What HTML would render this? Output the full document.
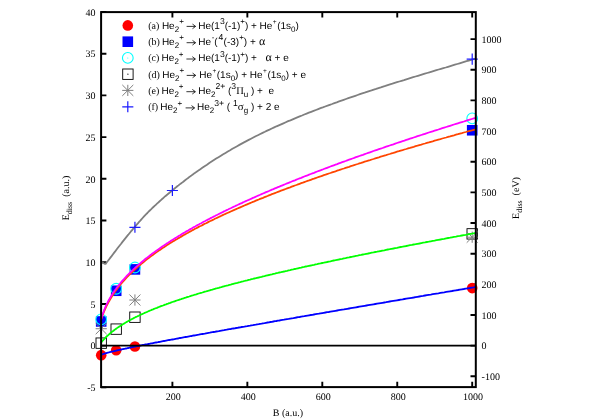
<!DOCTYPE html><html><head><meta charset="utf-8"><style>html,body{margin:0;padding:0;background:#fff;overflow:hidden}</style></head><body><svg width="598" height="419" viewBox="0 0 598 419" style="display:block;text-rendering:geometricPrecision;will-change:transform">
<rect width="598" height="419" fill="#fff"/>
<path d="M101.1,387.36h5.3 M101.1,345.65h5.3 M101.1,303.94h5.3 M101.1,262.23h5.3 M101.1,220.52h5.3 M101.1,178.81h5.3 M101.1,137.10h5.3 M101.1,95.39h5.3 M101.1,53.68h5.3 M101.1,11.97h5.3 M172.40,387.1v-5.3M172.40,12.1v5.3 M247.35,387.1v-5.3M247.35,12.1v5.3 M322.30,387.1v-5.3M322.30,12.1v5.3 M397.25,387.1v-5.3M397.25,12.1v5.3 M472.20,387.1v-5.3M472.20,12.1v5.3 M475.8,376.31h-5.3 M475.8,345.65h-5.3 M475.8,314.99h-5.3 M475.8,284.34h-5.3 M475.8,253.68h-5.3 M475.8,223.02h-5.3 M475.8,192.37h-5.3 M475.8,161.71h-5.3 M475.8,131.06h-5.3 M475.8,100.40h-5.3 M475.8,69.74h-5.3 M475.8,39.09h-5.3" stroke="#000" stroke-width="1.9" fill="none"/>
<circle cx="101.20" cy="355.16" r="5.3" fill="#ff0000"/>
<circle cx="116.19" cy="350.32" r="5.3" fill="#ff0000"/>
<circle cx="134.93" cy="346.57" r="5.3" fill="#ff0000"/>
<circle cx="472.20" cy="288.09" r="5.3" fill="#ff0000"/>
<rect x="95.90" y="316.16" width="10.6" height="10.6" fill="#0000ff"/>
<rect x="110.89" y="285.46" width="10.6" height="10.6" fill="#0000ff"/>
<rect x="129.62" y="264.10" width="10.6" height="10.6" fill="#0000ff"/>
<rect x="466.90" y="124.96" width="10.6" height="10.6" fill="#0000ff"/>
<circle cx="101.20" cy="319.37" r="5.35" fill="none" stroke="#00ffff" stroke-width="1.1"/>
<circle cx="116.19" cy="288.76" r="5.35" fill="none" stroke="#00ffff" stroke-width="1.1"/>
<circle cx="134.93" cy="267.49" r="5.35" fill="none" stroke="#00ffff" stroke-width="1.1"/>
<circle cx="472.20" cy="118.41" r="5.35" fill="none" stroke="#00ffff" stroke-width="1.1"/>
<rect x="96.00" y="337.95" width="10.4" height="10.4" fill="none" stroke="#000" stroke-width="0.9"/>
<rect x="110.99" y="323.93" width="10.4" height="10.4" fill="none" stroke="#000" stroke-width="0.9"/>
<rect x="129.73" y="312.00" width="10.4" height="10.4" fill="none" stroke="#000" stroke-width="0.9"/>
<rect x="467.00" y="228.67" width="10.4" height="10.4" fill="none" stroke="#000" stroke-width="0.9"/>
<path d="M95.60,328.72H106.80M101.20,323.12V334.32M95.71,323.23L106.69,334.20M95.71,334.20L106.69,323.23" stroke="#7f7f7f" stroke-width="1.0" fill="none"/>
<path d="M129.33,300.02H140.53M134.93,294.42V305.62M129.44,294.53L140.41,305.51M129.44,305.51L140.41,294.53" stroke="#7f7f7f" stroke-width="1.0" fill="none"/>
<path d="M466.60,237.20H477.80M472.20,231.60V242.80M466.71,231.72L477.69,242.69M466.71,242.69L477.69,231.72" stroke="#7f7f7f" stroke-width="1.0" fill="none"/>
<path d="M101.1,354.7 L101.1,354.7 L101.2,354.7 L101.3,354.6 L101.5,354.6 L101.6,354.5 L101.8,354.5 L102.0,354.4 L102.2,354.3 L102.5,354.3 L102.7,354.2 L103.0,354.1 L103.3,354.0 L103.6,353.9 L103.9,353.8 L104.2,353.7 L104.6,353.6 L104.9,353.5 L105.3,353.4 L105.7,353.3 L106.0,353.2 L106.4,353.1 L106.9,352.9 L107.3,352.8 L107.7,352.7 L108.2,352.6 L108.6,352.5 L109.1,352.3 L109.6,352.2 L110.1,352.1 L110.6,352.0 L111.1,351.8 L111.6,351.7 L112.1,351.6 L112.7,351.5 L113.2,351.3 L113.8,351.2 L114.3,351.1 L114.9,350.9 L115.5,350.8 L116.1,350.6 L116.7,350.5 L117.3,350.4 L117.9,350.2 L118.6,350.1 L119.2,349.9 L119.9,349.8 L120.5,349.6 L121.2,349.5 L121.8,349.4 L122.5,349.2 L123.2,349.1 L123.9,348.9 L124.6,348.8 L125.3,348.6 L126.1,348.5 L126.8,348.3 L127.5,348.1 L128.3,348.0 L129.0,347.8 L129.8,347.7 L130.6,347.5 L131.3,347.4 L132.1,347.2 L132.9,347.0 L133.7,346.9 L134.5,346.7 L135.3,346.5 L136.1,346.4 L137.0,346.2 L137.8,346.0 L138.7,345.9 L139.5,345.7 L140.4,345.5 L141.2,345.4 L142.1,345.2 L143.0,345.0 L143.9,344.9 L144.7,344.7 L145.6,344.5 L146.6,344.3 L147.5,344.2 L148.4,344.0 L149.3,343.8 L150.2,343.6 L151.2,343.4 L152.1,343.3 L153.1,343.1 L154.0,342.9 L155.0,342.7 L156.0,342.5 L157.0,342.3 L157.9,342.2 L158.9,342.0 L159.9,341.8 L160.9,341.6 L161.9,341.4 L163.0,341.2 L164.0,341.0 L165.0,340.8 L166.1,340.6 L167.1,340.4 L168.1,340.2 L169.2,340.0 L170.3,339.9 L171.3,339.7 L172.4,339.5 L173.5,339.3 L174.6,339.1 L175.7,338.9 L176.8,338.7 L177.9,338.5 L179.0,338.2 L180.1,338.0 L181.2,337.8 L182.3,337.6 L183.5,337.4 L184.6,337.2 L185.7,337.0 L186.9,336.8 L188.1,336.6 L189.2,336.4 L190.4,336.2 L191.6,336.0 L192.7,335.7 L193.9,335.5 L195.1,335.3 L196.3,335.1 L197.5,334.9 L198.7,334.7 L199.9,334.4 L201.2,334.2 L202.4,334.0 L203.6,333.8 L204.8,333.6 L206.1,333.3 L207.3,333.1 L208.6,332.9 L209.8,332.7 L211.1,332.4 L212.4,332.2 L213.7,332.0 L214.9,331.8 L216.2,331.5 L217.5,331.3 L218.8,331.1 L220.1,330.8 L221.4,330.6 L222.7,330.4 L224.0,330.2 L225.4,329.9 L226.7,329.7 L228.0,329.4 L229.4,329.2 L230.7,329.0 L232.1,328.7 L233.4,328.5 L234.8,328.3 L236.1,328.0 L237.5,327.8 L238.9,327.5 L240.3,327.3 L241.7,327.0 L243.0,326.8 L244.4,326.6 L245.8,326.3 L247.2,326.1 L248.7,325.8 L250.1,325.6 L251.5,325.3 L252.9,325.1 L254.4,324.8 L255.8,324.6 L257.2,324.3 L258.7,324.1 L260.1,323.8 L261.6,323.6 L263.0,323.3 L264.5,323.1 L266.0,322.8 L267.5,322.5 L268.9,322.3 L270.4,322.0 L271.9,321.8 L273.4,321.5 L274.9,321.2 L276.4,321.0 L277.9,320.7 L279.4,320.5 L281.0,320.2 L282.5,319.9 L284.0,319.7 L285.6,319.4 L287.1,319.1 L288.6,318.9 L290.2,318.6 L291.7,318.3 L293.3,318.1 L294.9,317.8 L296.4,317.5 L298.0,317.2 L299.6,317.0 L301.2,316.7 L302.8,316.4 L304.3,316.2 L305.9,315.9 L307.5,315.6 L309.1,315.3 L310.8,315.0 L312.4,314.8 L314.0,314.5 L315.6,314.2 L317.2,313.9 L318.9,313.7 L320.5,313.4 L322.2,313.1 L323.8,312.8 L325.5,312.5 L327.1,312.2 L328.8,312.0 L330.4,311.7 L332.1,311.4 L333.8,311.1 L335.5,310.8 L337.2,310.5 L338.8,310.2 L340.5,309.9 L342.2,309.6 L343.9,309.4 L345.6,309.1 L347.3,308.8 L349.1,308.5 L350.8,308.2 L352.5,307.9 L354.2,307.6 L356.0,307.3 L357.7,307.0 L359.4,306.7 L361.2,306.4 L362.9,306.1 L364.7,305.8 L366.5,305.5 L368.2,305.2 L370.0,304.9 L371.8,304.6 L373.5,304.3 L375.3,304.0 L377.1,303.7 L378.9,303.4 L380.7,303.1 L382.5,302.8 L384.3,302.5 L386.1,302.2 L387.9,301.8 L389.7,301.5 L391.6,301.2 L393.4,300.9 L395.2,300.6 L397.0,300.3 L398.9,300.0 L400.7,299.7 L402.6,299.4 L404.4,299.0 L406.3,298.7 L408.1,298.4 L410.0,298.1 L411.9,297.8 L413.7,297.5 L415.6,297.1 L417.5,296.8 L419.4,296.5 L421.3,296.2 L423.1,295.9 L425.0,295.5 L426.9,295.2 L428.8,294.9 L430.8,294.6 L432.7,294.2 L434.6,293.9 L436.5,293.6 L438.4,293.3 L440.4,292.9 L442.3,292.6 L444.2,292.3 L446.2,291.9 L448.1,291.6 L450.1,291.3 L452.0,291.0 L454.0,290.6 L456.0,290.3 L457.9,290.0 L459.9,289.6 L461.9,289.3 L463.8,289.0 L465.8,288.6 L467.8,288.3 L469.8,288.0 L471.8,287.6 L473.8,287.3 L475.8,286.9" fill="none" stroke="#0000ff" stroke-width="1.8"/>
<path d="M101.1,342.6 L101.1,342.5 L101.2,342.4 L101.3,342.3 L101.5,342.1 L101.6,341.9 L101.8,341.7 L102.0,341.5 L102.2,341.2 L102.5,340.9 L102.7,340.6 L103.0,340.3 L103.3,340.0 L103.6,339.7 L103.9,339.3 L104.2,339.0 L104.6,338.6 L104.9,338.3 L105.3,337.9 L105.7,337.5 L106.0,337.1 L106.4,336.7 L106.9,336.3 L107.3,335.9 L107.7,335.5 L108.2,335.1 L108.6,334.7 L109.1,334.3 L109.6,333.9 L110.1,333.4 L110.6,333.0 L111.1,332.6 L111.6,332.2 L112.1,331.7 L112.7,331.3 L113.2,330.9 L113.8,330.5 L114.3,330.0 L114.9,329.6 L115.5,329.2 L116.1,328.7 L116.7,328.3 L117.3,327.9 L117.9,327.4 L118.6,327.0 L119.2,326.6 L119.9,326.2 L120.5,325.7 L121.2,325.3 L121.8,324.9 L122.5,324.4 L123.2,324.0 L123.9,323.6 L124.6,323.2 L125.3,322.7 L126.1,322.3 L126.8,321.9 L127.5,321.5 L128.3,321.1 L129.0,320.6 L129.8,320.2 L130.6,319.8 L131.3,319.4 L132.1,319.0 L132.9,318.6 L133.7,318.1 L134.5,317.7 L135.3,317.3 L136.1,316.9 L137.0,316.5 L137.8,316.1 L138.7,315.7 L139.5,315.3 L140.4,314.9 L141.2,314.5 L142.1,314.1 L143.0,313.7 L143.9,313.3 L144.7,312.9 L145.6,312.5 L146.6,312.1 L147.5,311.7 L148.4,311.3 L149.3,310.9 L150.2,310.5 L151.2,310.1 L152.1,309.7 L153.1,309.3 L154.0,308.9 L155.0,308.5 L156.0,308.2 L157.0,307.8 L157.9,307.4 L158.9,307.0 L159.9,306.6 L160.9,306.2 L161.9,305.8 L163.0,305.5 L164.0,305.1 L165.0,304.7 L166.1,304.3 L167.1,303.9 L168.1,303.6 L169.2,303.2 L170.3,302.8 L171.3,302.4 L172.4,302.0 L173.5,301.7 L174.6,301.3 L175.7,300.9 L176.8,300.5 L177.9,300.2 L179.0,299.8 L180.1,299.4 L181.2,299.1 L182.3,298.7 L183.5,298.3 L184.6,297.9 L185.7,297.6 L186.9,297.2 L188.1,296.8 L189.2,296.5 L190.4,296.1 L191.6,295.7 L192.7,295.4 L193.9,295.0 L195.1,294.6 L196.3,294.3 L197.5,293.9 L198.7,293.5 L199.9,293.2 L201.2,292.8 L202.4,292.5 L203.6,292.1 L204.8,291.7 L206.1,291.4 L207.3,291.0 L208.6,290.7 L209.8,290.3 L211.1,289.9 L212.4,289.6 L213.7,289.2 L214.9,288.8 L216.2,288.5 L217.5,288.1 L218.8,287.8 L220.1,287.4 L221.4,287.1 L222.7,286.7 L224.0,286.3 L225.4,286.0 L226.7,285.6 L228.0,285.3 L229.4,284.9 L230.7,284.6 L232.1,284.2 L233.4,283.8 L234.8,283.5 L236.1,283.1 L237.5,282.8 L238.9,282.4 L240.3,282.1 L241.7,281.7 L243.0,281.4 L244.4,281.0 L245.8,280.6 L247.2,280.3 L248.7,279.9 L250.1,279.6 L251.5,279.2 L252.9,278.9 L254.4,278.5 L255.8,278.2 L257.2,277.8 L258.7,277.5 L260.1,277.1 L261.6,276.8 L263.0,276.4 L264.5,276.1 L266.0,275.7 L267.5,275.3 L268.9,275.0 L270.4,274.6 L271.9,274.3 L273.4,273.9 L274.9,273.6 L276.4,273.2 L277.9,272.9 L279.4,272.5 L281.0,272.2 L282.5,271.8 L284.0,271.5 L285.6,271.1 L287.1,270.8 L288.6,270.4 L290.2,270.1 L291.7,269.7 L293.3,269.4 L294.9,269.0 L296.4,268.7 L298.0,268.3 L299.6,267.9 L301.2,267.6 L302.8,267.2 L304.3,266.9 L305.9,266.5 L307.5,266.2 L309.1,265.8 L310.8,265.5 L312.4,265.1 L314.0,264.8 L315.6,264.4 L317.2,264.1 L318.9,263.7 L320.5,263.4 L322.2,263.0 L323.8,262.7 L325.5,262.3 L327.1,262.0 L328.8,261.6 L330.4,261.3 L332.1,260.9 L333.8,260.5 L335.5,260.2 L337.2,259.8 L338.8,259.5 L340.5,259.1 L342.2,258.8 L343.9,258.4 L345.6,258.1 L347.3,257.7 L349.1,257.4 L350.8,257.0 L352.5,256.7 L354.2,256.3 L356.0,255.9 L357.7,255.6 L359.4,255.2 L361.2,254.9 L362.9,254.5 L364.7,254.2 L366.5,253.8 L368.2,253.5 L370.0,253.1 L371.8,252.7 L373.5,252.4 L375.3,252.0 L377.1,251.7 L378.9,251.3 L380.7,251.0 L382.5,250.6 L384.3,250.3 L386.1,249.9 L387.9,249.5 L389.7,249.2 L391.6,248.8 L393.4,248.5 L395.2,248.1 L397.0,247.8 L398.9,247.4 L400.7,247.0 L402.6,246.7 L404.4,246.3 L406.3,246.0 L408.1,245.6 L410.0,245.2 L411.9,244.9 L413.7,244.5 L415.6,244.2 L417.5,243.8 L419.4,243.5 L421.3,243.1 L423.1,242.7 L425.0,242.4 L426.9,242.0 L428.8,241.7 L430.8,241.3 L432.7,240.9 L434.6,240.6 L436.5,240.2 L438.4,239.8 L440.4,239.5 L442.3,239.1 L444.2,238.8 L446.2,238.4 L448.1,238.0 L450.1,237.7 L452.0,237.3 L454.0,236.9 L456.0,236.6 L457.9,236.2 L459.9,235.9 L461.9,235.5 L463.8,235.1 L465.8,234.8 L467.8,234.4 L469.8,234.0 L471.8,233.7 L473.8,233.3 L475.8,232.9" fill="none" stroke="#00ff00" stroke-width="1.8"/>
<path d="M101.1,319.8 L101.1,319.7 L101.2,319.4 L101.3,319.0 L101.5,318.6 L101.6,318.1 L101.8,317.6 L102.0,317.0 L102.2,316.3 L102.5,315.7 L102.7,315.0 L103.0,314.2 L103.3,313.5 L103.6,312.7 L103.9,312.0 L104.2,311.2 L104.6,310.4 L104.9,309.6 L105.3,308.7 L105.7,307.9 L106.0,307.1 L106.4,306.2 L106.9,305.4 L107.3,304.6 L107.7,303.7 L108.2,302.9 L108.6,302.0 L109.1,301.2 L109.6,300.3 L110.1,299.5 L110.6,298.6 L111.1,297.8 L111.6,296.9 L112.1,296.1 L112.7,295.2 L113.2,294.4 L113.8,293.6 L114.3,292.7 L114.9,291.9 L115.5,291.1 L116.1,290.2 L116.7,289.4 L117.3,288.6 L117.9,287.8 L118.6,287.0 L119.2,286.2 L119.9,285.3 L120.5,284.5 L121.2,283.7 L121.8,282.9 L122.5,282.1 L123.2,281.4 L123.9,280.6 L124.6,279.8 L125.3,279.0 L126.1,278.2 L126.8,277.4 L127.5,276.7 L128.3,275.9 L129.0,275.1 L129.8,274.4 L130.6,273.6 L131.3,272.8 L132.1,272.1 L132.9,271.3 L133.7,270.6 L134.5,269.8 L135.3,269.1 L136.1,268.3 L137.0,267.6 L137.8,266.9 L138.7,266.1 L139.5,265.4 L140.4,264.7 L141.2,263.9 L142.1,263.2 L143.0,262.5 L143.9,261.8 L144.7,261.1 L145.6,260.3 L146.6,259.6 L147.5,258.9 L148.4,258.2 L149.3,257.5 L150.2,256.8 L151.2,256.1 L152.1,255.4 L153.1,254.7 L154.0,254.0 L155.0,253.3 L156.0,252.6 L157.0,251.9 L157.9,251.2 L158.9,250.6 L159.9,249.9 L160.9,249.2 L161.9,248.5 L163.0,247.8 L164.0,247.2 L165.0,246.5 L166.1,245.8 L167.1,245.1 L168.1,244.5 L169.2,243.8 L170.3,243.1 L171.3,242.5 L172.4,241.8 L173.5,241.1 L174.6,240.5 L175.7,239.8 L176.8,239.2 L177.9,238.5 L179.0,237.9 L180.1,237.2 L181.2,236.6 L182.3,235.9 L183.5,235.3 L184.6,234.6 L185.7,234.0 L186.9,233.3 L188.1,232.7 L189.2,232.0 L190.4,231.4 L191.6,230.8 L192.7,230.1 L193.9,229.5 L195.1,228.8 L196.3,228.2 L197.5,227.6 L198.7,226.9 L199.9,226.3 L201.2,225.7 L202.4,225.1 L203.6,224.4 L204.8,223.8 L206.1,223.2 L207.3,222.6 L208.6,221.9 L209.8,221.3 L211.1,220.7 L212.4,220.1 L213.7,219.5 L214.9,218.8 L216.2,218.2 L217.5,217.6 L218.8,217.0 L220.1,216.4 L221.4,215.8 L222.7,215.1 L224.0,214.5 L225.4,213.9 L226.7,213.3 L228.0,212.7 L229.4,212.1 L230.7,211.5 L232.1,210.9 L233.4,210.3 L234.8,209.7 L236.1,209.1 L237.5,208.5 L238.9,207.9 L240.3,207.3 L241.7,206.7 L243.0,206.1 L244.4,205.5 L245.8,204.9 L247.2,204.3 L248.7,203.7 L250.1,203.1 L251.5,202.5 L252.9,201.9 L254.4,201.3 L255.8,200.7 L257.2,200.1 L258.7,199.5 L260.1,198.9 L261.6,198.3 L263.0,197.8 L264.5,197.2 L266.0,196.6 L267.5,196.0 L268.9,195.4 L270.4,194.8 L271.9,194.2 L273.4,193.7 L274.9,193.1 L276.4,192.5 L277.9,191.9 L279.4,191.3 L281.0,190.7 L282.5,190.2 L284.0,189.6 L285.6,189.0 L287.1,188.4 L288.6,187.8 L290.2,187.3 L291.7,186.7 L293.3,186.1 L294.9,185.5 L296.4,185.0 L298.0,184.4 L299.6,183.8 L301.2,183.2 L302.8,182.7 L304.3,182.1 L305.9,181.5 L307.5,180.9 L309.1,180.4 L310.8,179.8 L312.4,179.2 L314.0,178.7 L315.6,178.1 L317.2,177.5 L318.9,176.9 L320.5,176.4 L322.2,175.8 L323.8,175.2 L325.5,174.7 L327.1,174.1 L328.8,173.5 L330.4,173.0 L332.1,172.4 L333.8,171.8 L335.5,171.3 L337.2,170.7 L338.8,170.2 L340.5,169.6 L342.2,169.0 L343.9,168.5 L345.6,167.9 L347.3,167.3 L349.1,166.8 L350.8,166.2 L352.5,165.7 L354.2,165.1 L356.0,164.5 L357.7,164.0 L359.4,163.4 L361.2,162.9 L362.9,162.3 L364.7,161.7 L366.5,161.2 L368.2,160.6 L370.0,160.1 L371.8,159.5 L373.5,159.0 L375.3,158.4 L377.1,157.8 L378.9,157.3 L380.7,156.7 L382.5,156.2 L384.3,155.6 L386.1,155.1 L387.9,154.5 L389.7,154.0 L391.6,153.4 L393.4,152.9 L395.2,152.3 L397.0,151.7 L398.9,151.2 L400.7,150.6 L402.6,150.1 L404.4,149.5 L406.3,149.0 L408.1,148.4 L410.0,147.9 L411.9,147.3 L413.7,146.8 L415.6,146.2 L417.5,145.7 L419.4,145.1 L421.3,144.6 L423.1,144.0 L425.0,143.5 L426.9,142.9 L428.8,142.4 L430.8,141.8 L432.7,141.3 L434.6,140.7 L436.5,140.2 L438.4,139.6 L440.4,139.1 L442.3,138.5 L444.2,138.0 L446.2,137.5 L448.1,136.9 L450.1,136.4 L452.0,135.8 L454.0,135.3 L456.0,134.7 L457.9,134.2 L459.9,133.6 L461.9,133.1 L463.8,132.5 L465.8,132.0 L467.8,131.4 L469.8,130.9 L471.8,130.4 L473.8,129.8 L475.8,129.3" fill="none" stroke="#ff4500" stroke-width="1.8"/>
<path d="M101.1,319.5 L101.1,319.3 L101.2,319.0 L101.3,318.6 L101.5,318.1 L101.6,317.5 L101.8,316.9 L102.0,316.2 L102.2,315.5 L102.5,314.8 L102.7,314.0 L103.0,313.2 L103.3,312.4 L103.6,311.6 L103.9,310.7 L104.2,309.9 L104.6,309.0 L104.9,308.2 L105.3,307.3 L105.7,306.5 L106.0,305.6 L106.4,304.7 L106.9,303.9 L107.3,303.0 L107.7,302.1 L108.2,301.3 L108.6,300.4 L109.1,299.6 L109.6,298.7 L110.1,297.8 L110.6,297.0 L111.1,296.1 L111.6,295.3 L112.1,294.5 L112.7,293.6 L113.2,292.8 L113.8,292.0 L114.3,291.1 L114.9,290.3 L115.5,289.5 L116.1,288.7 L116.7,287.8 L117.3,287.0 L117.9,286.2 L118.6,285.4 L119.2,284.6 L119.9,283.8 L120.5,283.0 L121.2,282.2 L121.8,281.4 L122.5,280.6 L123.2,279.8 L123.9,279.1 L124.6,278.3 L125.3,277.5 L126.1,276.7 L126.8,275.9 L127.5,275.2 L128.3,274.4 L129.0,273.6 L129.8,272.9 L130.6,272.1 L131.3,271.4 L132.1,270.6 L132.9,269.9 L133.7,269.1 L134.5,268.4 L135.3,267.6 L136.1,266.9 L137.0,266.1 L137.8,265.4 L138.7,264.7 L139.5,263.9 L140.4,263.2 L141.2,262.5 L142.1,261.7 L143.0,261.0 L143.9,260.3 L144.7,259.5 L145.6,258.8 L146.6,258.1 L147.5,257.4 L148.4,256.7 L149.3,256.0 L150.2,255.2 L151.2,254.5 L152.1,253.8 L153.1,253.1 L154.0,252.4 L155.0,251.7 L156.0,251.0 L157.0,250.3 L157.9,249.6 L158.9,248.9 L159.9,248.2 L160.9,247.5 L161.9,246.8 L163.0,246.1 L164.0,245.4 L165.0,244.7 L166.1,244.0 L167.1,243.3 L168.1,242.7 L169.2,242.0 L170.3,241.3 L171.3,240.6 L172.4,239.9 L173.5,239.2 L174.6,238.5 L175.7,237.9 L176.8,237.2 L177.9,236.5 L179.0,235.8 L180.1,235.2 L181.2,234.5 L182.3,233.8 L183.5,233.1 L184.6,232.5 L185.7,231.8 L186.9,231.1 L188.1,230.5 L189.2,229.8 L190.4,229.1 L191.6,228.5 L192.7,227.8 L193.9,227.1 L195.1,226.5 L196.3,225.8 L197.5,225.1 L198.7,224.5 L199.9,223.8 L201.2,223.2 L202.4,222.5 L203.6,221.8 L204.8,221.2 L206.1,220.5 L207.3,219.9 L208.6,219.2 L209.8,218.6 L211.1,217.9 L212.4,217.3 L213.7,216.6 L214.9,216.0 L216.2,215.3 L217.5,214.7 L218.8,214.0 L220.1,213.4 L221.4,212.7 L222.7,212.1 L224.0,211.4 L225.4,210.8 L226.7,210.1 L228.0,209.5 L229.4,208.8 L230.7,208.2 L232.1,207.5 L233.4,206.9 L234.8,206.3 L236.1,205.6 L237.5,205.0 L238.9,204.3 L240.3,203.7 L241.7,203.1 L243.0,202.4 L244.4,201.8 L245.8,201.1 L247.2,200.5 L248.7,199.9 L250.1,199.2 L251.5,198.6 L252.9,197.9 L254.4,197.3 L255.8,196.7 L257.2,196.0 L258.7,195.4 L260.1,194.8 L261.6,194.1 L263.0,193.5 L264.5,192.9 L266.0,192.2 L267.5,191.6 L268.9,191.0 L270.4,190.3 L271.9,189.7 L273.4,189.1 L274.9,188.4 L276.4,187.8 L277.9,187.2 L279.4,186.6 L281.0,185.9 L282.5,185.3 L284.0,184.7 L285.6,184.0 L287.1,183.4 L288.6,182.8 L290.2,182.2 L291.7,181.5 L293.3,180.9 L294.9,180.3 L296.4,179.6 L298.0,179.0 L299.6,178.4 L301.2,177.8 L302.8,177.1 L304.3,176.5 L305.9,175.9 L307.5,175.3 L309.1,174.6 L310.8,174.0 L312.4,173.4 L314.0,172.8 L315.6,172.1 L317.2,171.5 L318.9,170.9 L320.5,170.3 L322.2,169.7 L323.8,169.0 L325.5,168.4 L327.1,167.8 L328.8,167.2 L330.4,166.5 L332.1,165.9 L333.8,165.3 L335.5,164.7 L337.2,164.1 L338.8,163.4 L340.5,162.8 L342.2,162.2 L343.9,161.6 L345.6,161.0 L347.3,160.3 L349.1,159.7 L350.8,159.1 L352.5,158.5 L354.2,157.9 L356.0,157.2 L357.7,156.6 L359.4,156.0 L361.2,155.4 L362.9,154.8 L364.7,154.1 L366.5,153.5 L368.2,152.9 L370.0,152.3 L371.8,151.7 L373.5,151.0 L375.3,150.4 L377.1,149.8 L378.9,149.2 L380.7,148.6 L382.5,148.0 L384.3,147.3 L386.1,146.7 L387.9,146.1 L389.7,145.5 L391.6,144.9 L393.4,144.3 L395.2,143.6 L397.0,143.0 L398.9,142.4 L400.7,141.8 L402.6,141.2 L404.4,140.6 L406.3,139.9 L408.1,139.3 L410.0,138.7 L411.9,138.1 L413.7,137.5 L415.6,136.9 L417.5,136.2 L419.4,135.6 L421.3,135.0 L423.1,134.4 L425.0,133.8 L426.9,133.2 L428.8,132.5 L430.8,131.9 L432.7,131.3 L434.6,130.7 L436.5,130.1 L438.4,129.5 L440.4,128.8 L442.3,128.2 L444.2,127.6 L446.2,127.0 L448.1,126.4 L450.1,125.8 L452.0,125.2 L454.0,124.5 L456.0,123.9 L457.9,123.3 L459.9,122.7 L461.9,122.1 L463.8,121.5 L465.8,120.8 L467.8,120.2 L469.8,119.6 L471.8,119.0 L473.8,118.4 L475.8,117.8" fill="none" stroke="#ff00ff" stroke-width="1.8"/>
<path d="M101.1,261.8 L104.6,263.8 L105.6,263.9 L106.8,262.3 L108.0,260.8 L109.2,259.2 L110.4,257.6 L111.6,256.1 L112.8,254.5 L114.0,252.9 L115.2,251.4 L116.4,249.8 L117.5,248.3 L118.7,246.7 L119.9,245.2 L121.1,243.7 L122.3,242.1 L123.5,240.6 L124.7,239.1 L125.9,237.6 L127.1,236.1 L128.3,234.7 L129.5,233.2 L130.7,231.7 L131.9,230.3 L133.1,228.9 L134.3,227.5 L135.5,226.1 L136.7,224.7 L137.9,223.3 L139.1,221.9 L140.3,220.6 L141.4,219.3 L142.6,218.0 L143.8,216.7 L145.0,215.4 L146.2,214.2 L147.4,213.0 L148.6,211.7 L149.8,210.5 L151.0,209.4 L152.2,208.2 L153.4,207.0 L154.6,205.9 L155.8,204.8 L157.0,203.7 L158.2,202.6 L159.4,201.5 L160.6,200.4 L161.8,199.3 L163.0,198.3 L164.2,197.2 L165.3,196.2 L166.5,195.2 L167.7,194.2 L168.9,193.2 L170.1,192.2 L171.3,191.2 L172.5,190.2 L173.7,189.2 L174.9,188.2 L176.1,187.3 L177.3,186.3 L178.5,185.4 L179.7,184.4 L180.9,183.5 L182.1,182.6 L183.3,181.7 L184.5,180.7 L185.7,179.8 L186.9,178.9 L188.1,178.0 L189.2,177.1 L190.4,176.3 L191.6,175.4 L192.8,174.5 L194.0,173.6 L195.2,172.8 L196.4,171.9 L197.6,171.1 L198.8,170.2 L200.0,169.4 L202.3,167.8 L204.6,166.2 L207.0,164.7 L209.3,163.1 L211.6,161.6 L213.9,160.1 L216.2,158.6 L218.5,157.2 L220.9,155.7 L223.2,154.3 L225.5,152.9 L227.8,151.5 L230.1,150.2 L232.4,148.8 L234.8,147.5 L237.1,146.2 L239.4,144.9 L241.7,143.6 L244.0,142.4 L246.4,141.1 L248.7,139.9 L251.0,138.7 L253.3,137.5 L255.6,136.3 L257.9,135.2 L260.3,134.0 L262.6,132.9 L264.9,131.8 L267.2,130.6 L269.5,129.6 L271.8,128.5 L274.2,127.4 L276.5,126.3 L278.8,125.3 L281.1,124.3 L283.4,123.3 L285.8,122.2 L288.1,121.2 L290.4,120.3 L292.7,119.3 L295.0,118.3 L297.3,117.4 L299.7,116.4 L302.0,115.5 L304.3,114.5 L306.6,113.6 L308.9,112.7 L311.2,111.8 L313.6,110.9 L315.9,110.0 L318.2,109.1 L320.5,108.2 L322.8,107.4 L325.2,106.5 L327.5,105.7 L329.8,104.8 L332.1,104.0 L334.4,103.1 L336.7,102.3 L339.1,101.4 L341.4,100.6 L343.7,99.8 L346.0,99.0 L348.3,98.2 L350.6,97.4 L353.0,96.6 L355.3,95.8 L357.6,95.0 L359.9,94.2 L362.2,93.4 L364.6,92.7 L366.9,91.9 L369.2,91.1 L371.5,90.4 L373.8,89.6 L376.1,88.9 L378.5,88.1 L380.8,87.4 L383.1,86.6 L385.4,85.9 L387.7,85.1 L390.0,84.4 L392.4,83.7 L394.7,82.9 L397.0,82.2 L399.3,81.5 L401.6,80.8 L404.0,80.1 L406.3,79.3 L408.6,78.6 L410.9,77.9 L413.2,77.2 L415.5,76.5 L417.9,75.8 L420.2,75.1 L422.5,74.4 L424.8,73.7 L427.1,73.0 L429.4,72.3 L431.8,71.6 L434.1,70.9 L436.4,70.2 L438.7,69.5 L441.0,68.8 L443.4,68.1 L445.7,67.5 L448.0,66.8 L450.3,66.1 L452.6,65.4 L454.9,64.7 L457.3,64.0 L459.6,63.3 L461.9,62.6 L464.2,61.9 L466.5,61.2 L468.8,60.6 L471.2,59.9 L473.5,59.2 L475.8,58.5" fill="none" stroke="#7f7f7f" stroke-width="1.8" stroke-linejoin="round"/>
<path d="M129.38,227.28H140.48M134.93,221.73V232.83" stroke="#1a1aff" stroke-width="1.2" fill="none"/>
<path d="M166.85,190.49H177.95M172.40,184.94V196.04" stroke="#1a1aff" stroke-width="1.2" fill="none"/>
<path d="M466.65,59.10H477.75M472.20,53.55V64.65" stroke="#1a1aff" stroke-width="1.2" fill="none"/>
<line x1="101.1" y1="345.65" x2="475.8" y2="345.65" stroke="#000" stroke-width="1.8"/>
<rect x="101.1" y="12.1" width="374.70000000000005" height="375.0" fill="none" stroke="#000" stroke-width="2"/>
<g font-family="Liberation Serif, serif" font-size="10" fill="#000" style="white-space:pre">
<text x="95.6" y="391.06" text-anchor="end">-5</text>
<text x="95.6" y="349.35" text-anchor="end">0</text>
<text x="95.6" y="307.64" text-anchor="end">5</text>
<text x="95.6" y="265.93" text-anchor="end">10</text>
<text x="95.6" y="224.22" text-anchor="end">15</text>
<text x="95.6" y="182.51" text-anchor="end">20</text>
<text x="95.6" y="140.80" text-anchor="end">25</text>
<text x="95.6" y="99.09" text-anchor="end">30</text>
<text x="95.6" y="57.38" text-anchor="end">35</text>
<text x="95.6" y="15.67" text-anchor="end">40</text>
<text x="173.30" y="400.3" text-anchor="middle">200</text>
<text x="248.25" y="400.3" text-anchor="middle">400</text>
<text x="323.20" y="400.3" text-anchor="middle">600</text>
<text x="398.15" y="400.3" text-anchor="middle">800</text>
<text x="473.10" y="400.3" text-anchor="middle">1000</text>
<text x="481.6" y="380.01">-100</text>
<text x="481.6" y="349.35">0</text>
<text x="481.6" y="318.69">100</text>
<text x="481.6" y="288.04">200</text>
<text x="481.6" y="257.38">300</text>
<text x="481.6" y="226.72">400</text>
<text x="481.6" y="196.07">500</text>
<text x="481.6" y="165.41">600</text>
<text x="481.6" y="134.76">700</text>
<text x="481.6" y="104.10">800</text>
<text x="481.6" y="73.44">900</text>
<text x="481.6" y="42.79">1000</text>
<text x="288" y="415.8" text-anchor="middle">B (a.u.)</text>
<text transform="translate(68.8,198) rotate(-90)" text-anchor="middle">E<tspan font-size="8" dy="3">diss</tspan><tspan dy="-3">  (a.u.)</tspan></text>
<text transform="translate(519,198) rotate(-90)" text-anchor="middle">E<tspan font-size="8" dy="3">diss</tspan><tspan dy="-3">  (eV)</tspan></text>
</g>
<circle cx="127.80" cy="25.40" r="5.3" fill="#ff0000"/>
<rect x="122.50" y="36.40" width="10.6" height="10.6" fill="#0000ff"/>
<circle cx="127.80" cy="57.90" r="5.35" fill="none" stroke="#00ffff" stroke-width="1.1"/><circle cx="127.80" cy="57.90" r="0.5" fill="#00ffff"/>
<rect x="122.70" y="69.00" width="10.4" height="10.4" fill="none" stroke="#000" stroke-width="0.9"/><circle cx="127.90" cy="74.20" r="0.6" fill="#000"/>
<path d="M122.20,90.40H133.40M127.80,84.80V96.00M122.31,84.91L133.29,95.89M122.31,95.89L133.29,84.91" stroke="#7f7f7f" stroke-width="1.0" fill="none"/>
<path d="M122.25,106.80H133.35M127.80,101.25V112.35" stroke="#1a1aff" stroke-width="1.2" fill="none"/>
<g font-family="Liberation Serif, serif" font-size="10" fill="#000" style="white-space:pre">
<text x="148.2" y="28.70">(a)</text>
<text font-family="Liberation Sans, sans-serif" x="161.90" y="28.70">He<tspan font-size="8" dy="3.0">2</tspan><tspan dy="-3.0" font-size="0.01">.</tspan><tspan font-size="8" dy="-4.6">+</tspan><tspan dy="4.6" font-size="0.01">.</tspan></text>
<path d="M186.60,26.40H195.40M192.50,24.10L195.60,26.40L192.50,28.70" fill="none" stroke="#000" stroke-width="0.8"/>
<text font-family="Liberation Sans, sans-serif" x="198.20" y="28.70">He(1<tspan font-size="8.6" dy="-4.6">3</tspan><tspan dy="4.6" font-size="0.01">.</tspan>(-1)<tspan font-size="8" dy="-4.6">+</tspan><tspan dy="4.6" font-size="0.01">.</tspan>) + He<tspan dx="0.45" font-size="0.01">.</tspan><tspan font-size="6.6" dy="-5.1">+</tspan><tspan dy="5.1" font-size="0.01">.</tspan><tspan dx="0.45" font-size="0.01">.</tspan>(1s<tspan font-size="8" dy="3.0">0</tspan><tspan dy="-3.0" font-size="0.01">.</tspan>)</text>
<text x="148.2" y="45.00">(b)</text>
<text font-family="Liberation Sans, sans-serif" x="161.90" y="45.00">He<tspan font-size="8" dy="3.0">2</tspan><tspan dy="-3.0" font-size="0.01">.</tspan><tspan font-size="8" dy="-4.6">+</tspan><tspan dy="4.6" font-size="0.01">.</tspan></text>
<path d="M186.60,42.70H195.40M192.50,40.40L195.60,42.70L192.50,45.00" fill="none" stroke="#000" stroke-width="0.8"/>
<text font-family="Liberation Sans, sans-serif" x="198.20" y="45.00">He<tspan dx="0.7" font-size="0.01">.</tspan><tspan font-size="8" dy="-4.6">-</tspan><tspan dy="4.6" font-size="0.01">.</tspan>(<tspan dx="0.9" font-size="0.01">.</tspan><tspan font-size="8.6" dy="-4.6">4</tspan><tspan dy="4.6" font-size="0.01">.</tspan><tspan dx="0.2" font-size="0.01">.</tspan>(-3)<tspan font-size="8" dy="-4.6">+</tspan><tspan dy="4.6" font-size="0.01">.</tspan>) + <tspan dx="0.4" font-size="0.01">.</tspan><tspan font-family="Liberation Serif, serif" font-size="12">α</tspan></text>
<text x="148.2" y="61.30">(c)</text>
<text font-family="Liberation Sans, sans-serif" x="161.60" y="61.30">He<tspan font-size="8" dy="3.0">2</tspan><tspan dy="-3.0" font-size="0.01">.</tspan><tspan font-size="8" dy="-4.6">+</tspan><tspan dy="4.6" font-size="0.01">.</tspan></text>
<path d="M186.40,59.00H195.20M192.30,56.70L195.40,59.00L192.30,61.30" fill="none" stroke="#000" stroke-width="0.8"/>
<text font-family="Liberation Sans, sans-serif" x="198.20" y="61.30">He(1<tspan font-size="8.6" dy="-4.6">3</tspan><tspan dy="4.6" font-size="0.01">.</tspan>(-1)<tspan font-size="8" dy="-4.6">+</tspan><tspan dy="4.6" font-size="0.01">.</tspan>) +   <tspan dx="0.3" font-size="0.01">.</tspan><tspan font-family="Liberation Serif, serif" font-size="12">α</tspan> + e</text>
<text x="148.2" y="77.70">(d)</text>
<text font-family="Liberation Sans, sans-serif" x="162.30" y="77.70">He<tspan font-size="8" dy="3.0">2</tspan><tspan dy="-3.0" font-size="0.01">.</tspan><tspan font-size="8" dy="-4.6">+</tspan><tspan dy="4.6" font-size="0.01">.</tspan></text>
<path d="M186.70,75.40H195.50M192.60,73.10L195.70,75.40L192.60,77.70" fill="none" stroke="#000" stroke-width="0.8"/>
<text font-family="Liberation Sans, sans-serif" x="199.20" y="77.70">He<tspan dx="0.45" font-size="0.01">.</tspan><tspan font-size="6.6" dy="-5.1">+</tspan><tspan dy="5.1" font-size="0.01">.</tspan><tspan dx="0.45" font-size="0.01">.</tspan>(1s<tspan font-size="8" dy="3.0">0</tspan><tspan dy="-3.0" font-size="0.01">.</tspan>) + He<tspan dx="0.45" font-size="0.01">.</tspan><tspan font-size="6.6" dy="-5.1">+</tspan><tspan dy="5.1" font-size="0.01">.</tspan><tspan dx="0.45" font-size="0.01">.</tspan>(1s<tspan font-size="8" dy="3.0">0</tspan><tspan dy="-3.0" font-size="0.01">.</tspan>) + e</text>
<text x="148.2" y="94.00">(e)</text>
<text font-family="Liberation Sans, sans-serif" x="161.60" y="94.00">He<tspan font-size="8" dy="3.0">2</tspan><tspan dy="-3.0" font-size="0.01">.</tspan><tspan font-size="8" dy="-4.6">+</tspan><tspan dy="4.6" font-size="0.01">.</tspan></text>
<path d="M186.40,91.70H195.20M192.30,89.40L195.40,91.70L192.30,94.00" fill="none" stroke="#000" stroke-width="0.8"/>
<text font-family="Liberation Sans, sans-serif" x="198.20" y="94.00">He<tspan font-size="8" dy="3.0">2</tspan><tspan dy="-3.0" font-size="0.01">.</tspan><tspan font-size="8.6" dy="-4.6">2+</tspan><tspan dy="4.6" font-size="0.01">.</tspan> (<tspan font-size="8.6" dy="-4.6">3</tspan><tspan dy="4.6" font-size="0.01">.</tspan><tspan font-family="Liberation Serif, serif" font-size="10.5">Π</tspan><tspan font-size="8" dy="3.0">u</tspan><tspan dy="-3.0" font-size="0.01">.</tspan> ) +  e</text>
<text x="148.2" y="110.20">(f)</text>
<text font-family="Liberation Sans, sans-serif" x="160.30" y="110.20">He<tspan font-size="8" dy="3.0">2</tspan><tspan dy="-3.0" font-size="0.01">.</tspan><tspan font-size="8" dy="-4.6">+</tspan><tspan dy="4.6" font-size="0.01">.</tspan></text>
<path d="M185.60,107.90H194.40M191.50,105.60L194.60,107.90L191.50,110.20" fill="none" stroke="#000" stroke-width="0.8"/>
<text font-family="Liberation Sans, sans-serif" x="197.00" y="110.20">He<tspan font-size="8" dy="3.0">2</tspan><tspan dy="-3.0" font-size="0.01">.</tspan><tspan font-size="8.6" dy="-4.6">3+</tspan><tspan dy="4.6" font-size="0.01">.</tspan> ( <tspan font-size="8.6" dy="-4.6">1</tspan><tspan dy="4.6" font-size="0.01">.</tspan><tspan font-family="Liberation Serif, serif" font-size="11">σ</tspan><tspan font-size="8" dy="3.0">g</tspan><tspan dy="-3.0" font-size="0.01">.</tspan> ) + 2 e</text>
</g>
</svg></body></html>
